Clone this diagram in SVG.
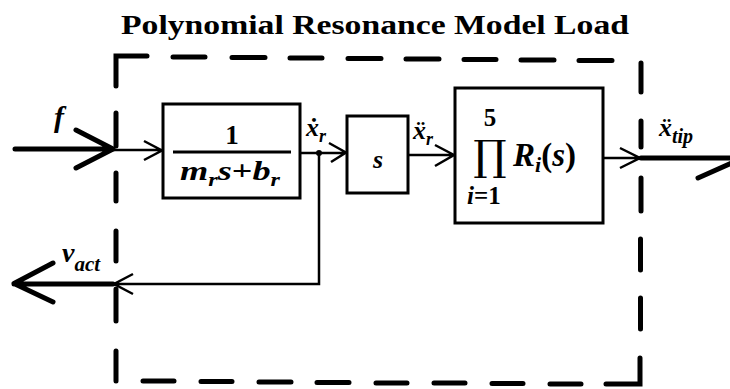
<svg xmlns="http://www.w3.org/2000/svg" width="730" height="389" viewBox="0 0 730 389">
<style>
.thin{fill:none;stroke:#000;stroke-width:2.5;stroke-linejoin:miter}
.thick{fill:none;stroke:#000;stroke-width:5;stroke-linecap:round;stroke-linejoin:round}
.box{fill:#fff;stroke:#000;stroke-width:3}
.dash{fill:none;stroke:#000;stroke-width:5;stroke-linecap:round}
.m{font-family:"Liberation Serif","DejaVu Serif",serif;font-style:italic;font-weight:bold;fill:#000}
.r{font-family:"Liberation Serif","DejaVu Serif",serif;font-weight:bold;fill:#000}
</style>
<rect width="730" height="389" fill="#fff"/>
<text id="title" class="r" x="121" y="34" font-size="27" textLength="508" lengthAdjust="spacingAndGlyphs">Polynomial Resonance Model Load</text>
<g id="load-boundary" class="dash">
<path d="M116,86 V56 H147"/>
<path d="M116,113 V146"/>
<path d="M116,173 V201"/>
<path d="M116,231 V261"/>
<path d="M116,289 V321"/>
<path d="M116,351 V381"/>
<path d="M173,57 H205 M232,57.5 H265 M290,58 H322 M348,58.5 H381 M406,59 H439 M464,59.5 H496 M521,60 H554 M579,60.5 H612"/>
<path d="M641,63 V92 M641,121 V147 M641,178 V211 M640.5,239 V270 M640.5,298 V329"/>
<path d="M606,384 H640 V358"/>
<path d="M143,381 H174 M201,381.5 H232 M259,382 H291 M317,382.5 H349 M376,383 H407 M434,383 H465 M492,383.5 H523 M550,384 H581"/>
</g>
<g id="connectors">
<path class="thick" d="M15,149 H113 M76,130 L113,149 L76,168"/>
<path class="thin" d="M113,150 H162 M144,141 L162,150.5 L144,160"/>
<path class="thin" d="M300,153 H346 M329,143 L346,152.5 L331,162"/>
<circle cx="319" cy="153" r="3"/>
<path class="thin" d="M408,155 H454 M435,145 L454,155 L435,166"/>
<path class="thin" d="M603,158 H640 M620,148 L640,158 L620,168"/>
<path class="thick" d="M641,158 H732 M698,178 L734,162"/>
<path class="thin" d="M319,153 V284 H114 M133,274 L114,284 L133,294"/>
<path class="thick" d="M113,284 H14 M53,263 L14,283.5 L53,302"/>
</g>
<g id="label-f"><text class="m" x="54" y="127" font-size="30">f</text></g>
<g id="label-xdot"><text class="m" x="306" y="136" font-size="26">ẋ<tspan font-size="18" dy="6">r</tspan></text></g>
<g id="label-xddot"><text class="m" x="413" y="139" font-size="26">ẍ<tspan font-size="18" dy="6">r</tspan></text></g>
<g id="label-xtip"><text class="m" x="659" y="136" font-size="26">ẍ<tspan font-size="20" dy="7">tip</tspan></text></g>
<g id="label-vact"><text class="m" x="62" y="262" font-size="28">v<tspan font-size="21" dy="9">act</tspan></text></g>
<g id="block-mass">
<rect class="box" x="163" y="104" width="137" height="94"/>
<line x1="173" y1="152" x2="291" y2="152" stroke="#000" stroke-width="3"/>
<text class="r" x="232" y="144" font-size="27" text-anchor="middle">1</text>
<text class="m" x="180" y="180" font-size="27" textLength="100" lengthAdjust="spacingAndGlyphs">m<tspan font-size="18" dy="6">r</tspan><tspan dy="-6">s</tspan><tspan font-style="normal">+</tspan>b<tspan font-size="18" dy="6">r</tspan></text>
</g>
<g id="block-s">
<rect class="box" x="347" y="116" width="61" height="77"/>
<text class="m" x="378" y="168" font-size="26" text-anchor="middle">s</text>
</g>
<g id="block-resonance">
<rect class="box" x="455" y="88" width="148" height="135"/>
<text class="r" x="490" y="126" font-size="25" text-anchor="middle">5</text>
<text x="490" y="170" font-size="42" text-anchor="middle" font-family="'DejaVu Serif',serif">∏</text>
<text class="m" x="467" y="204" font-size="25">i<tspan font-style="normal">=1</tspan></text>
<text class="m" x="513" y="166" font-size="33">R<tspan font-size="22" dy="6">i</tspan><tspan dy="-6" font-style="normal">(</tspan>s<tspan font-style="normal">)</tspan></text>
</g>
</svg>
